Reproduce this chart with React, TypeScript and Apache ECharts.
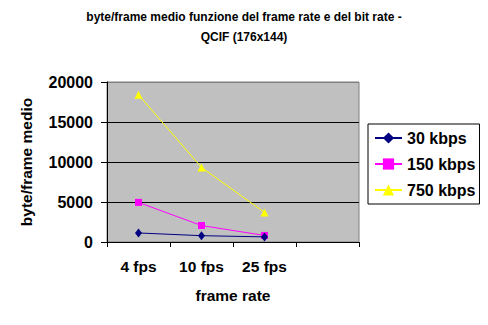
import React, { useEffect, useRef } from "react";
import * as echarts from "echarts";

const categories = ["4 fps", "10 fps", "25 fps", ""];
const seriesNames = ["30 kbps", "150 kbps", "750 kbps"];
const kbps30 = [1130, 790, 640];
const kbps150 = [4950, 2060, 820];
const kbps750 = [18400, 9320, 3700];
const yTicks = { min: 0, max: 20000, interval: 5000 };

const FONT = "'Liberation Sans', Arial, sans-serif";

export default function App() {
  const ref = useRef<HTMLDivElement>(null);
  useEffect(() => {
    if (!ref.current) return;
    document.body.style.margin = "0";
    const chart = echarts.init(ref.current, undefined, { renderer: "svg" });
    chart.setOption({
      animation: false,
      backgroundColor: "#ffffff",
      title: {
        text: "byte/frame medio funzione del frame rate e del bit rate -\nQCIF (176x144)",
        left: "center",
        top: 7,
        padding: 0,
        textStyle: {
          fontFamily: FONT,
          fontSize: 12,
          fontWeight: "bold",
          color: "#000",
          lineHeight: 20,
          align: "center",
        },
      },
      legend: {
        orient: "vertical",
        left: 368,
        top: 124,
        padding: [6, 4, 6, 6],
        itemWidth: 27,
        itemHeight: 14,
        itemGap: 10,
        borderColor: "#000",
        borderWidth: 1,
        backgroundColor: "#fff",
        textStyle: { fontFamily: FONT, fontSize: 16, fontWeight: "bold", color: "#000" },
        data: seriesNames,
      },
      grid: {
        left: 107,
        right: 129,
        top: 82,
        bottom: 83,
        show: true,
        backgroundColor: "#c0c0c0",
        borderColor: "#808080",
        borderWidth: 1,
      },
      xAxis: {
        type: "category",
        data: categories,
        boundaryGap: true,
        name: "frame rate",
        nameLocation: "middle",
        nameGap: 45,
        nameTextStyle: { fontFamily: FONT, fontSize: 15.5, fontWeight: "bold", color: "#000" },
        axisLine: { lineStyle: { color: "#000", width: 1 } },
        axisTick: { show: true, length: 5, interval: 0, lineStyle: { color: "#000" } },
        axisLabel: {
          interval: 0,
          margin: 16,
          fontFamily: FONT,
          fontSize: 15.5,
          fontWeight: "bold",
          color: "#000",
        },
        splitLine: { show: false },
      },
      yAxis: {
        type: "value",
        min: yTicks.min,
        max: yTicks.max,
        interval: yTicks.interval,
        name: "byte/frame medio",
        nameLocation: "middle",
        nameRotate: 90,
        nameGap: 73,
        nameTextStyle: { fontFamily: FONT, fontSize: 15.5, fontWeight: "bold", color: "#000" },
        axisLine: { show: true, lineStyle: { color: "#000", width: 1 } },
        axisTick: { show: true, length: 6, lineStyle: { color: "#000" } },
        axisLabel: {
          margin: 14,
          fontFamily: FONT,
          fontSize: 16,
          fontWeight: "bold",
          color: "#000",
          formatter: (v: number) => String(v),
        },
        splitLine: {
          show: true,
          lineStyle: { color: ["#000", "#000", "#000", "#000", "#808080"], width: 1 },
        },
      },
      series: [
        {
          name: seriesNames[0],
          type: "line",
          data: kbps30,
          symbol: "diamond",
          symbolSize: [7, 9],
          itemStyle: { color: "#000080" },
          lineStyle: { color: "#000080", width: 1 },
          z: 4,
        },
        {
          name: seriesNames[1],
          type: "line",
          data: kbps150,
          symbol: "rect",
          symbolSize: 7,
          itemStyle: { color: "#ff00ff" },
          lineStyle: { color: "#ff00ff", width: 1 },
          z: 3,
        },
        {
          name: seriesNames[2],
          type: "line",
          data: kbps750,
          symbol: "triangle",
          symbolSize: 8,
          itemStyle: { color: "#ffff00" },
          lineStyle: { color: "#ffff00", width: 1 },
          z: 2,
        },
      ],
    });
    return () => chart.dispose();
  }, []);
  return <div ref={ref} style={{ width: 488, height: 325 }} />;
}
